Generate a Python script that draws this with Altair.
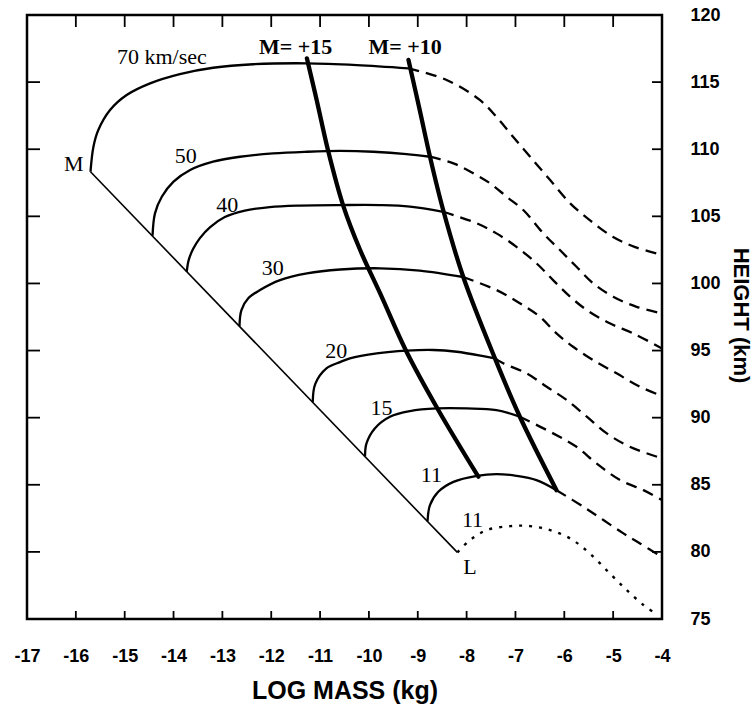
import altair as alt
import pandas as pd

# Boundary between the M and L ends of the curves (log mass kg, height km)
BOUNDARY = [(-15.70, 108.32), (-8.19, 79.96)]

# Constant-velocity curves: solid part, then dashed continuation to the right
V70 = [(-15.70, 108.32), (-15.64, 110.19), (-15.54, 111.43), (-15.30, 112.92),
       (-14.96, 114.04), (-14.48, 114.91), (-13.87, 115.60), (-13.19, 116.07),
       (-12.37, 116.33), (-11.27, 116.40), (-10.25, 116.27), (-9.19, 116.03)]
V70_EXT = [(-9.19, 116.03), (-8.41, 115.16), (-7.73, 113.67), (-7.39, 112.42),
           (-7.05, 110.93), (-6.70, 109.44), (-6.29, 107.70), (-5.88, 105.97),
           (-5.48, 104.72), (-5.00, 103.46), (-4.55, 102.71), (-4.00, 102.12)]

V50 = [(-14.43, 103.55), (-14.38, 105.22), (-14.24, 106.46), (-14.00, 107.58),
       (-13.66, 108.45), (-13.19, 109.07), (-12.64, 109.44), (-11.96, 109.69),
       (-11.27, 109.81), (-10.59, 109.87), (-9.91, 109.81), (-9.23, 109.64),
       (-8.75, 109.44)]
V50_EXT = [(-8.75, 109.44), (-8.27, 108.95), (-7.86, 108.20), (-7.52, 107.46),
           (-7.18, 106.46), (-6.84, 105.47), (-6.43, 103.73), (-6.09, 102.49),
           (-5.75, 101.24), (-5.41, 100.01), (-5.00, 99.01), (-4.52, 98.26),
           (-4.00, 97.77)]

V40 = [(-13.73, 100.87), (-13.69, 101.74), (-13.60, 102.56), (-13.46, 103.38),
       (-13.25, 104.20), (-12.95, 104.95), (-12.54, 105.43), (-12.03, 105.69),
       (-11.41, 105.80), (-10.59, 105.84), (-9.77, 105.84), (-9.16, 105.73),
       (-8.48, 105.34)]
V40_EXT = [(-8.48, 105.34), (-7.79, 104.48), (-7.39, 103.73), (-6.98, 102.73),
           (-6.57, 101.50), (-6.23, 100.25), (-5.88, 99.01), (-5.54, 98.02),
           (-5.07, 97.03), (-4.59, 96.28), (-4.00, 95.16)]

V30 = [(-12.65, 96.82), (-12.61, 98.02), (-12.47, 98.89), (-12.23, 99.51),
       (-11.82, 100.25), (-11.27, 100.75), (-10.59, 101.04), (-9.77, 101.13),
       (-8.96, 100.96), (-8.07, 100.48)]
V30_EXT = [(-8.07, 100.48), (-7.39, 99.51), (-6.91, 98.52), (-6.50, 97.52),
           (-6.16, 96.28), (-5.82, 95.28), (-5.41, 94.29), (-4.93, 93.30),
           (-4.45, 92.30), (-4.00, 91.61)]

V20 = [(-11.15, 91.16), (-11.10, 92.50), (-10.87, 93.67), (-10.59, 94.14),
       (-10.39, 94.42), (-9.84, 94.79), (-9.23, 94.99), (-8.68, 95.04),
       (-8.20, 94.91), (-7.66, 94.59), (-7.42, 94.42)]
V20_EXT = [(-7.42, 94.42), (-7.25, 94.05), (-6.77, 93.30), (-6.36, 92.30),
           (-5.95, 91.31), (-5.54, 90.07), (-5.13, 88.83), (-4.66, 87.83),
           (-4.00, 86.97)]

V15 = [(-10.08, 87.12), (-10.05, 88.08), (-9.88, 89.20), (-9.57, 90.07),
       (-9.16, 90.49), (-8.61, 90.69), (-8.00, 90.69), (-7.39, 90.57),
       (-6.91, 90.07)]
V15_EXT = [(-6.91, 90.07), (-6.23, 88.83), (-5.75, 87.83), (-5.34, 86.59),
           (-4.86, 85.35), (-4.38, 84.60), (-4.00, 83.86)]

V11 = [(-8.80, 82.28), (-8.75, 83.49), (-8.58, 84.48), (-8.27, 85.22),
       (-7.79, 85.67), (-7.39, 85.80), (-6.98, 85.67), (-6.57, 85.35),
       (-6.16, 84.60)]
V11_EXT = [(-6.16, 84.60), (-5.61, 83.36), (-5.20, 82.37), (-4.79, 81.38),
           (-4.45, 80.63), (-4.00, 79.61)]

# Lower 11 km/sec branch starting at L
V11_LOW = [(-8.19, 79.96), (-7.93, 80.88), (-7.59, 81.62), (-7.11, 81.92),
           (-6.70, 81.92), (-6.29, 81.62), (-5.88, 81.00), (-5.48, 79.89),
           (-5.07, 78.40), (-4.72, 77.15), (-4.38, 76.04), (-4.14, 75.42)]

# Limiting magnitude lines
M15 = [(-11.27, 116.77), (-11.07, 113.67), (-10.83, 109.81), (-10.53, 105.84),
       (-10.18, 102.49), (-9.77, 99.26), (-9.23, 94.91), (-8.58, 90.57),
       (-7.76, 85.60)]
M10 = [(-9.19, 116.65), (-8.96, 112.92), (-8.75, 109.44), (-8.48, 105.47),
       (-8.07, 100.50), (-7.42, 94.42), (-6.91, 90.07), (-6.16, 84.60)]

# Curve labels
VEL_TEXT = ["70 km/sec", "50", "40", "30", "20", "15", "11", "11", "M", "L"]
VEL_MASS = [-14.24, -13.75, -12.90, -11.97, -10.67, -9.74, -8.72, -7.88, -16.04, -7.93]
VEL_HEIGHT = [116.87, 109.49, 105.88, 101.18, 94.93, 90.72, 85.72, 82.38, 108.90, 78.90]

MAG_TEXT = ["M= +15", "M= +10"]
MAG_MASS = [-11.50, -9.26]
MAG_HEIGHT = [117.62, 117.62]

X_TICKS = list(range(-17, -3))
Y_TICKS = list(range(75, 121, 5))


def to_frame(curves):
    rows = []
    for name, pts in curves.items():
        for i, (m, h) in enumerate(pts):
            rows.append({"mass": m, "height": h, "curve": name, "i": i})
    return pd.DataFrame(rows)


solid_df = to_frame({"70": V70, "50": V50, "40": V40, "30": V30,
                     "20": V20, "15": V15, "11": V11})
dashed_df = to_frame({"70": V70_EXT, "50": V50_EXT, "40": V40_EXT, "30": V30_EXT,
                      "20": V20_EXT, "15": V15_EXT, "11": V11_EXT})
dotted_df = to_frame({"11low": V11_LOW})
mag_df = to_frame({"+15": M15, "+10": M10})
edge_df = to_frame({"edge": BOUNDARY})
vel_df = pd.DataFrame({"mass": VEL_MASS, "height": VEL_HEIGHT, "text": VEL_TEXT})
mag_lab_df = pd.DataFrame({"mass": MAG_MASS, "height": MAG_HEIGHT, "text": MAG_TEXT})
xt_df = pd.DataFrame({"mass": X_TICKS[1:-1]})
yt_df = pd.DataFrame({"height": Y_TICKS[1:-1]})

SANS = "Liberation Sans"
SERIF = "Liberation Serif"

x_scale = alt.Scale(domain=[-17, -4], nice=False, zero=False)
y_scale = alt.Scale(domain=[75, 120], nice=False, zero=False)

x_axis = alt.Axis(orient="bottom", values=X_TICKS, ticks=False, domain=False, grid=False,
                  labelExpr="'' + datum.value", labelFont=SANS, labelFontWeight="bold",
                  labelFontSize=18, labelPadding=28, labelFlush=False, labelOverlap=False,
                  labelColor="black", titleFont=SANS, titleFontWeight="bold",
                  titleFontSize=25, titleColor="black", titleY=79,
                  titleBaseline="alphabetic")
y_axis = alt.Axis(orient="right", values=Y_TICKS, ticks=False, domain=False, grid=False,
                  labelFont=SANS, labelFontWeight="bold", labelFontSize=18,
                  labelPadding=28, labelFlush=False, labelOverlap=False,
                  labelColor="black", labelAlign="left", labelBaseline="middle",
                  titleFont=SANS, titleFontWeight="bold", titleFontSize=22,
                  titleColor="black", titleAngle=90, titleX=78, titleY=300,
                  titleAlign="center", titleBaseline="middle")

X = alt.X("mass:Q", scale=x_scale, axis=x_axis, title="LOG MASS (kg)")
Y = alt.Y("height:Q", scale=y_scale, axis=y_axis, title="HEIGHT (km)")

solid = alt.Chart(solid_df).mark_line(
    color="black", strokeWidth=2.3, interpolate="catmull-rom"
).encode(x=X, y=Y, detail="curve:N", order="i:Q")

dashed = alt.Chart(dashed_df).mark_line(
    color="black", strokeWidth=2.3, strokeDash=[11, 7], interpolate="catmull-rom"
).encode(x=X, y=Y, detail="curve:N", order="i:Q")

dotted = alt.Chart(dotted_df).mark_line(
    color="black", strokeWidth=2.4, strokeDash=[3, 7], interpolate="catmull-rom"
).encode(x=X, y=Y, detail="curve:N", order="i:Q")

mags = alt.Chart(mag_df).mark_line(
    color="black", strokeWidth=4.3, strokeCap="round", interpolate="catmull-rom"
).encode(x=X, y=Y, detail="curve:N", order="i:Q")

edge = alt.Chart(edge_df).mark_line(color="black", strokeWidth=1.6).encode(
    x=X, y=Y, order="i:Q")

vel_labels = alt.Chart(vel_df).mark_text(
    font=SERIF, fontSize=22, color="black"
).encode(x=X, y=Y, text="text:N")

mag_labels = alt.Chart(mag_lab_df).mark_text(
    font=SERIF, fontSize=22, fontWeight="bold", color="black"
).encode(x=X, y=Y, text="text:N")

# Inward tick marks on all four sides of the frame
top_ticks = alt.Chart(xt_df).mark_rule(color="black", strokeWidth=1.8).encode(
    x=X, y=alt.value(0), y2=alt.value(12))
bottom_ticks = alt.Chart(xt_df).mark_rule(color="black", strokeWidth=1.8).encode(
    x=X, y=alt.value(604), y2=alt.value(596))
left_ticks = alt.Chart(yt_df).mark_rule(color="black", strokeWidth=1.8).encode(
    y=Y, x=alt.value(0), x2=alt.value(13))
right_ticks = alt.Chart(yt_df).mark_rule(color="black", strokeWidth=1.8).encode(
    y=Y, x=alt.value(635), x2=alt.value(625))

chart = alt.layer(
    solid, dashed, dotted, edge, mags, vel_labels, mag_labels,
    top_ticks, bottom_ticks, left_ticks, right_ticks
).properties(
    width=635, height=604,
    padding={"left": 27, "top": 15, "right": 93, "bottom": 91},
    autosize=alt.AutoSizeParams(type="none"),
    background="white",
).configure_view(stroke="black", strokeWidth=2.5)

chart.save("out.html", embed_options={"renderer": "svg", "actions": False})
